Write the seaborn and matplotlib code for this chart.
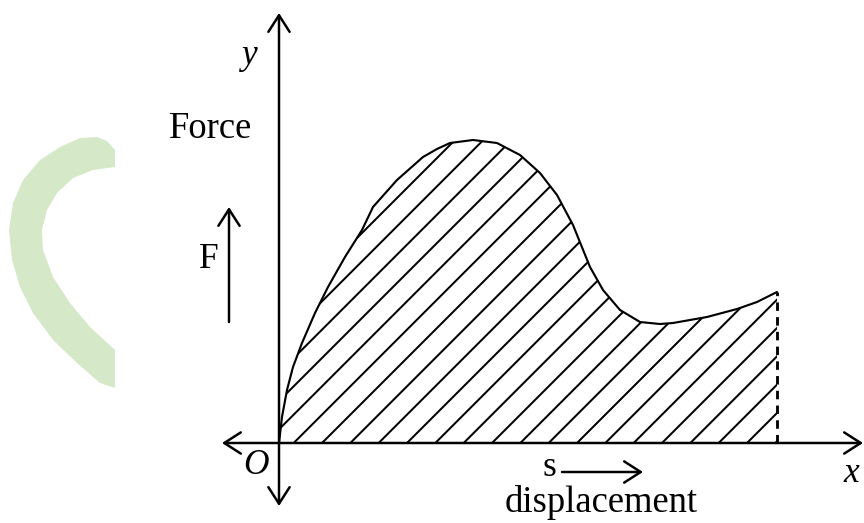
import matplotlib
matplotlib.use("Agg")
import matplotlib.pyplot as plt
import seaborn as sns
import pandas as pd

# curve (units: pixels from origin O)
displacement = [0, 3, 8, 14, 23, 36, 49, 66, 83, 94, 118, 144, 158, 171, 194, 218,
                241, 261, 278, 294, 311, 324, 341, 361, 381, 394, 428, 458, 478, 498]
force = [0, 26, 53, 76, 100, 130, 156, 186, 213, 236, 263, 286, 294, 300, 303, 300,
         288, 270, 248, 218, 176, 153, 133, 121, 119, 120, 126, 134, 141, 151]

# axis extents (arrow tips)
x_left, x_right = -57, 584
y_down, y_up = -63, 430

# green arc in the background (outer edge top->bottom, inner edge top->bottom)
arc_outer_x = [-164, -172, -182, -199, -219, -239, -256, -266, -270, -267, -259, -246, -226, -202, -179, -164]
arc_outer_y = [293, 302, 306, 305, 296, 283, 263, 240, 213, 183, 156, 130, 103, 80, 60, 55]
arc_inner_x = [-164, -186, -206, -222, -232, -237, -236, -226, -209, -189, -164]
arc_inner_y = [276, 273, 265, 250, 233, 213, 193, 166, 140, 116, 93]

df = pd.DataFrame({"s": displacement, "F": force})

sns.set_style("white")
plt.rcParams["hatch.linewidth"] = 0.85
plt.rcParams["hatch.color"] = "black"
plt.rcParams["text.color"] = "black"

DPI = 170
fig = plt.figure(figsize=(864 / DPI, 523 / DPI), dpi=DPI)
ax = fig.add_axes([0, 0, 1, 1])
ax.set_xlim(-279, 585)
ax.set_ylim(-80, 443)
ax.axis("off")

# watermark arc
ax.fill(arc_outer_x + arc_inner_x[::-1], arc_outer_y + arc_inner_y[::-1],
        color="#d5e8c8", lw=0, zorder=0)

# hatched area under the curve
ax.fill_between(df["s"], df["F"], 0, hatch="//", facecolor="none",
                edgecolor="black", linewidth=0, zorder=1)
sns.lineplot(data=df, x="s", y="F", ax=ax, color="black", linewidth=0.9, zorder=3)
ax.plot([displacement[-1], displacement[-1]], [0, force[-1]], color="black",
        lw=1.2, ls=(0, (3, 2.2)), zorder=3)

arrow = dict(arrowstyle="->,head_length=0.7,head_width=0.45", color="black",
             lw=1.05, shrinkA=0, shrinkB=0)
for tip in [(x_right, 0), (x_left, 0), (0, y_up), (0, y_down)]:
    ax.annotate("", xy=tip, xytext=(0, 0), arrowprops=arrow, zorder=4)

# small arrows for F and s
ax.annotate("", xy=(-50, 236), xytext=(-50, 121), arrowprops=arrow)
ax.annotate("", xy=(364, -29), xytext=(283, -29), arrowprops=arrow)

serif = "Liberation Serif"
ax.text(-29, 388, "y", fontsize=15, family=serif, style="italic", ha="center", va="center")
ax.text(-68, 314, "Force", fontsize=15.5, family=serif, ha="center", va="center")
ax.text(-70, 183, "F", fontsize=15, family=serif, ha="center", va="center")
ax.text(-23, -23, "O", fontsize=15, family=serif, style="italic", ha="center", va="center")
ax.text(270, -24, "s", fontsize=15, family=serif, ha="center", va="center")
ax.text(322, -69, "displacement", fontsize=15.5, family=serif, ha="center", va="baseline")
ax.text(572, -31, "x", fontsize=15, family=serif, style="italic", ha="center", va="center")

fig.savefig("out.png", dpi=DPI)
